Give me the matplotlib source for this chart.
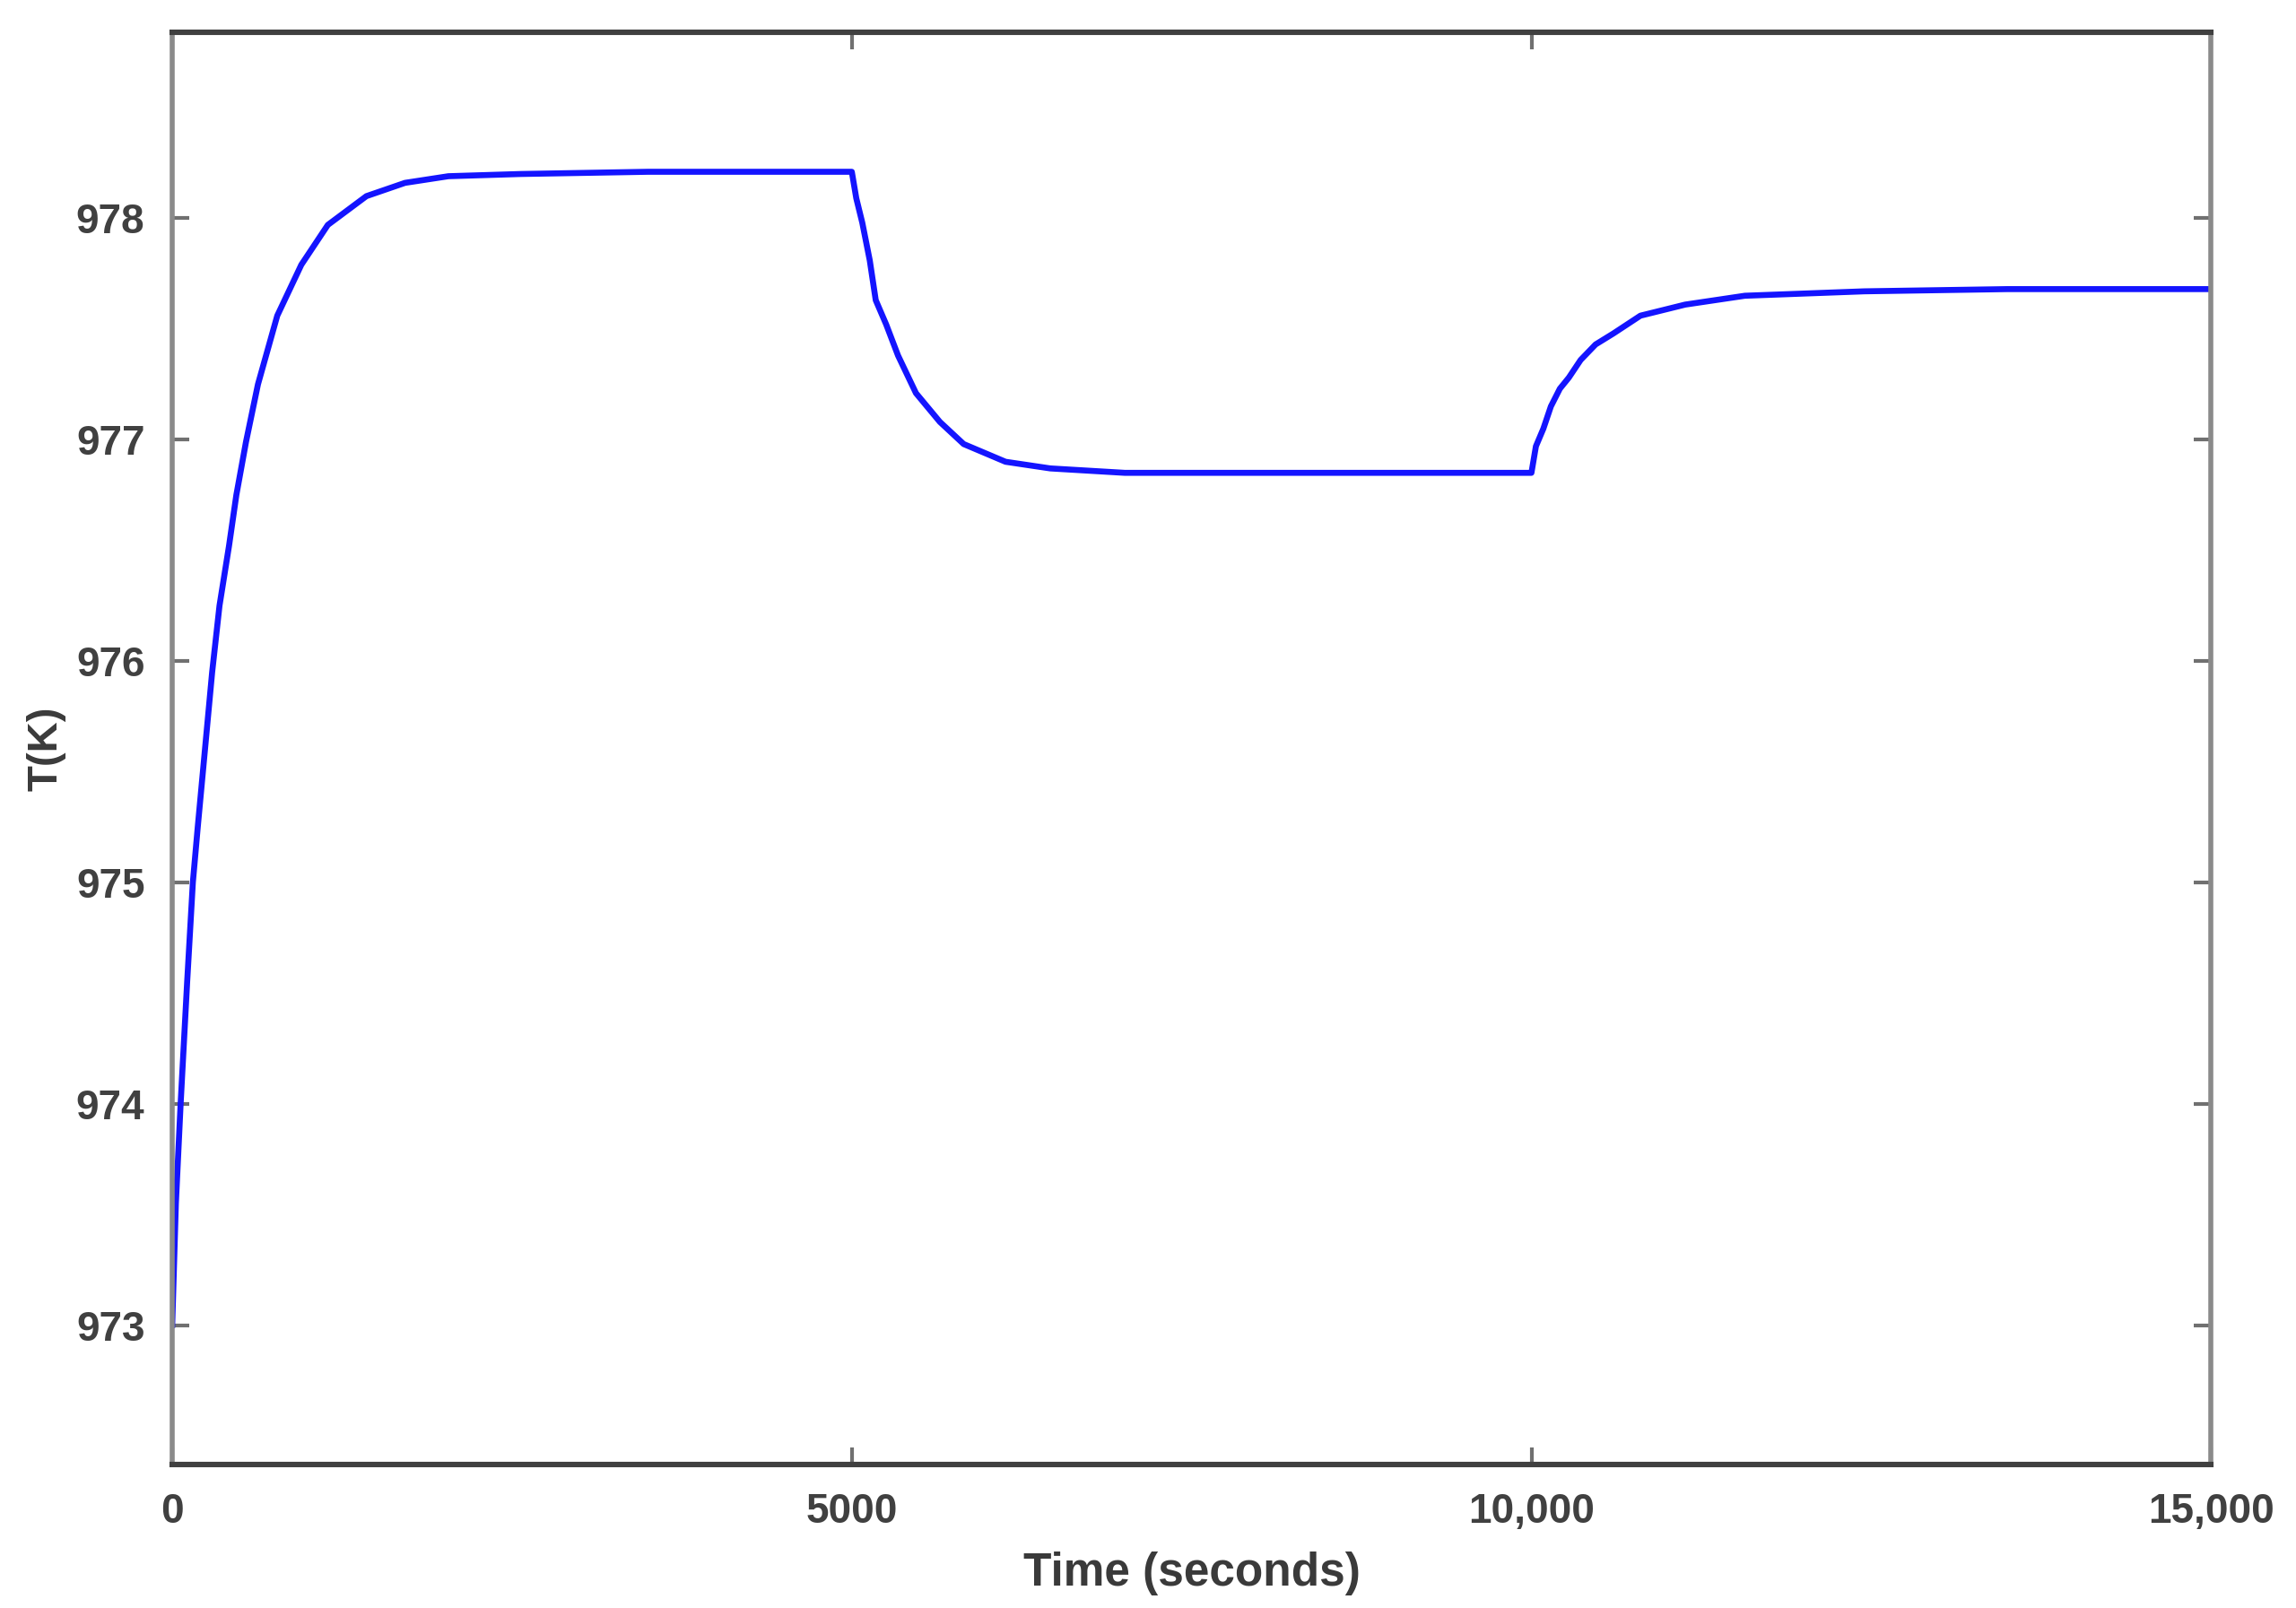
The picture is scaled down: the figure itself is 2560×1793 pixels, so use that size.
import matplotlib
matplotlib.use('Agg')
import matplotlib.pyplot as plt

plt.rcParams['font.family'] = ['Liberation Sans', 'DejaVu Sans']

# time (s) and reactor temperature (K)
t_s = [0, 5, 27, 62, 110, 152, 188, 241, 294, 348, 418, 472, 543, 631, 773,
       950, 1145, 1429, 1713, 2032, 2564, 3500, 5000,
       5033, 5077, 5132, 5176, 5253, 5340, 5472, 5648, 5823, 6131, 6460, 7009,
       8000, 9000, 10000,
       10033, 10088, 10143, 10209, 10275, 10362, 10472, 10604, 10802, 11131,
       11570, 12449, 13500, 15000]
T_K = [973.00, 973.10, 973.55, 974.00, 974.55, 975.00, 975.25, 975.60, 975.95,
       976.25, 976.52, 976.75, 976.99, 977.25, 977.56, 977.79, 977.97, 978.10,
       978.16, 978.19, 978.20, 978.21, 978.21,
       978.09, 977.98, 977.81, 977.63, 977.52, 977.38, 977.21, 977.08, 976.98,
       976.90, 976.87, 976.85, 976.85, 976.85, 976.85,
       976.97, 977.05, 977.15, 977.23, 977.28, 977.36, 977.43, 977.48, 977.56,
       977.61, 977.65, 977.67, 977.68, 977.68]

x_ticks = [0, 5000, 10000, 15000]
x_ticklabels = ['0', '5000', '10,000', '15,000']
y_ticks = [973, 974, 975, 976, 977, 978]

fig = plt.figure(figsize=(12.8, 8.965), dpi=200)
ax = fig.add_axes([0.075, 0.0892, 0.888, 0.8907])

ax.plot(t_s, T_K, color='#1414ff', linewidth=2.4)

ax.set_xlim(0, 15000)
ax.set_ylim(972.37, 978.84)
ax.set_xticks(x_ticks)
ax.set_xticklabels(x_ticklabels)
ax.set_yticks(y_ticks)

for side in ['top', 'bottom']:
    ax.spines[side].set_color('#404040')
    ax.spines[side].set_linewidth(2.2)
for side in ['left', 'right']:
    ax.spines[side].set_color('#8a8a8a')
    ax.spines[side].set_linewidth(2.0)

ax.tick_params(direction='in', top=True, right=True, length=7, width=1.5,
               color='#707070', labelsize=16.5, labelcolor='#404040', pad=11)
for lab in ax.get_xticklabels() + ax.get_yticklabels():
    lab.set_fontweight('bold')

ax.set_xlabel('Time (seconds)', fontsize=18.5, fontweight='bold', color='#3a3a3a', labelpad=8)
ax.set_ylabel('T(K)', fontsize=17, fontweight='bold', color='#3a3a3a', labelpad=4)

plt.savefig('out.png', dpi=200)
plt.close()
